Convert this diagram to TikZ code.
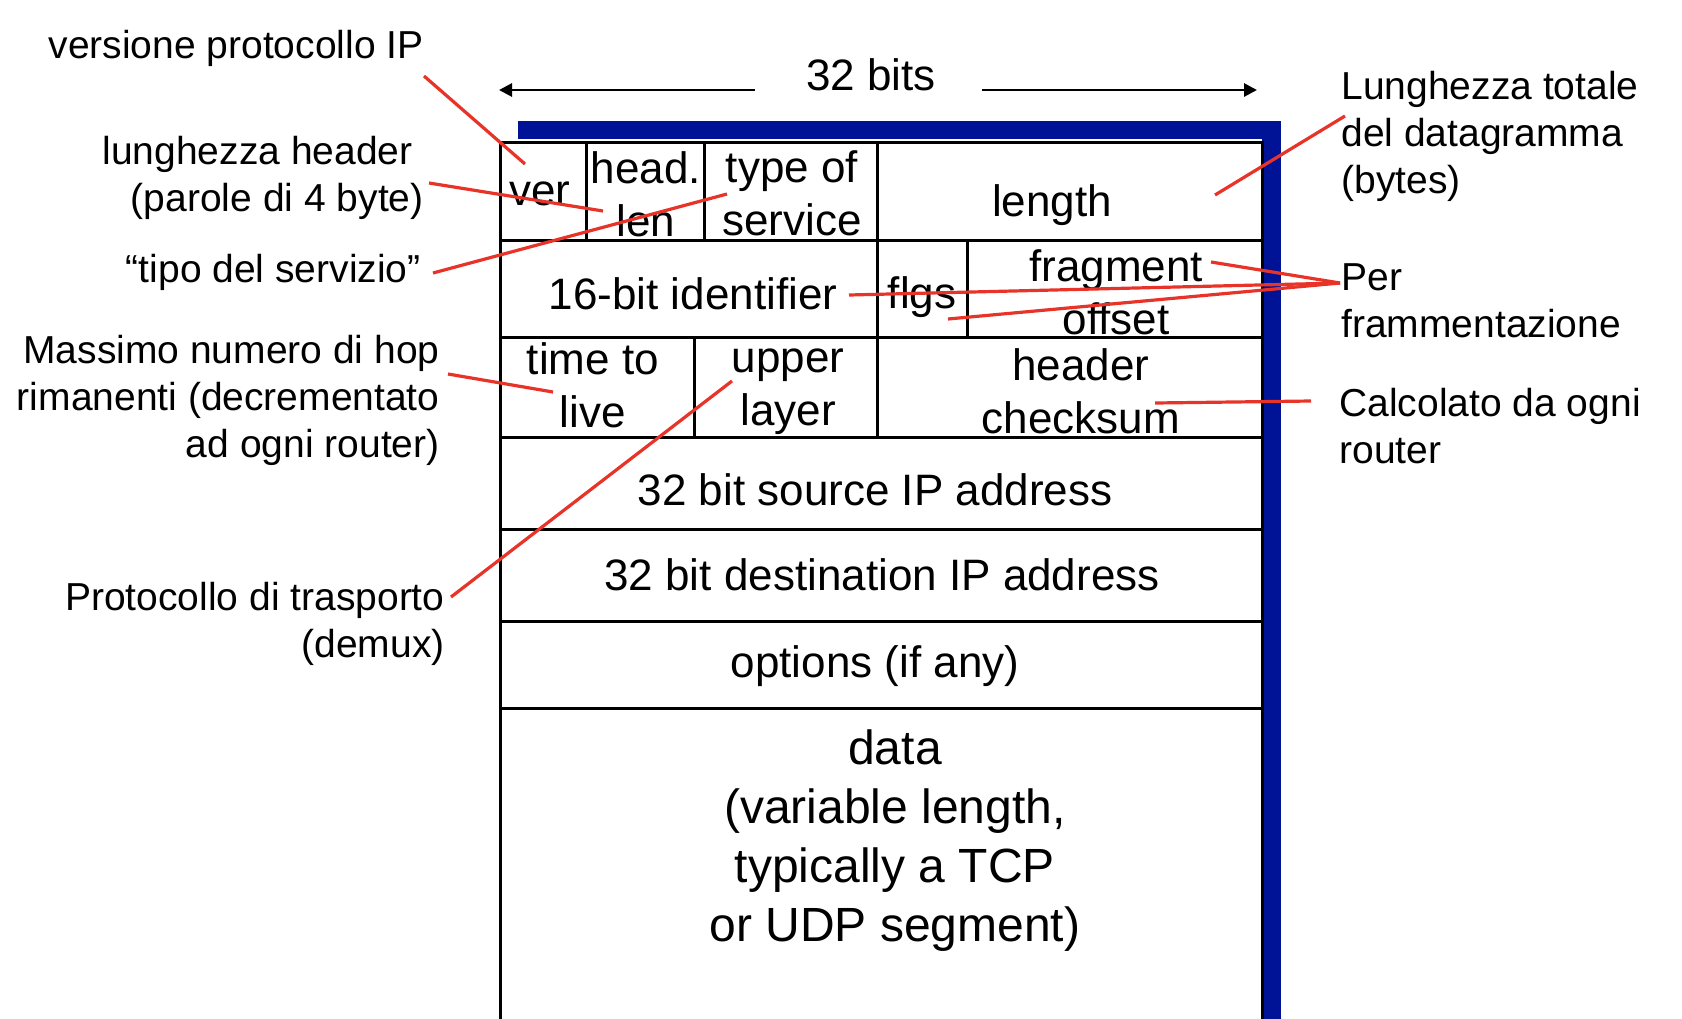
\documentclass[tikz,border=0pt]{standalone}
\usepackage{fontspec}
\setmainfont{Liberation Sans}
\usetikzlibrary{arrows.meta}
\definecolor{frameblue}{RGB}{0,18,150}
\definecolor{tagred}{RGB}{232,52,40}

\begin{document}
\begin{tikzpicture}[x=0.5pt,y=-0.5pt,
    field/.style={inner sep=0pt,anchor=base,align=center,font=\fontsize{22}{26.5}\selectfont},
    datafield/.style={field,font=\fontsize{24}{29.5}\selectfont},
    ltag/.style={inner sep=0pt,anchor=base east,align=right,font=\fontsize{19.5}{23.5}\selectfont},
    rtag/.style={inner sep=0pt,anchor=base west,align=left,font=\fontsize{19.5}{23.5}\selectfont},
    tagline/.style={draw=tagred,line width=1.6pt},
    grid/.style={line width=1.5pt},
    widtharrow/.style={line width=1.4pt,-{Triangle[length=6.5pt,width=6.5pt]}}]
  \useasboundingbox (0,0) rectangle (1682,1018);

  %% Blue frame behind the header
  \fill[frameblue] (518,121) rectangle (1281,139);
  \fill[frameblue] (1262,121) rectangle (1281,1040);

  %% Outline and rows of the header
  \draw[grid] (500,1040) -- (500,142) -- (1262,142) -- (1262,1040);
  \foreach \y in {240,337,437,529,621,708}{
    \draw[grid] (500,\y) -- (1262,\y);
  }
  %% Field separators
  \foreach \x/\ya/\yb in {586/142/240,704/142/240,877/142/337,967/240/337,694/337/437,877/337/437}{
    \draw[grid] (\x,\ya) -- (\x,\yb);
  }

  %% Width of a row
  \node[field] (bits) at (871,90) {32 bits};
  \coordinate (leftend) at (499,90);
  \coordinate (rightend) at (1257,90);
  \draw[widtharrow] ([xshift=-25.5pt]bits.base west) -- (leftend);
  \draw[widtharrow] ([xshift=23pt]bits.base east) -- (rightend);

  %% Fields (multi-line ones sit on their last line)
  \node[field] (ver) at (540,205) {ver};
  \node[field] (hlen) at (646,236) {head.\\len};
  \node[field] (tos) at (792,235) {type of\\service};
  \node[field] (len) at (1052,216) {length};
  \node[field] (ident) at (693,309) {16-bit identifier};
  \node[field] (flgs) at (922,308) {flgs};
  \node[field] (frag) at (1116,334) {fragment\\offset};
  \node[field] (ttl) at (593,427) {time to\\live};
  \node[field] (upper) at (788,425) {upper\\layer};
  \node[field] (cksum) at (1081,433) {header\\checksum};
  \node[field] (src) at (875,505) {32 bit source IP address};
  \node[field] (dst) at (882,590) {32 bit destination IP address};
  \node[field] (opt) at (875,677) {options (if any)};
  \node[datafield] (data) at (895,941) {data\\(variable length,\\typically a TCP\\or UDP segment)};

  %% Notes on the left
  \node[ltag] (verlab) at (424,58) {versione protocollo IP};
  \node[ltag] (hlenlab) at (424,211) {lunghezza header\hspace*{5.5pt}\\(parole di 4 byte)};
  \node[ltag] (toslab) at (421,282) {“tipo del servizio”};
  \node[ltag] (ttllab) at (440,457) {Massimo numero di hop\\rimanenti (decrementato\\ad ogni router)};
  \node[ltag] (protolab) at (445,657) {Protocollo di trasporto\\(demux)};

  %% Notes on the right
  \node[rtag] (lenlab) at (1341,193) {Lunghezza totale\\del datagramma\\(bytes)};
  \node[rtag] (fraglab) at (1341,337) {Per\\frammentazione};
  \node[rtag] (cksumlab) at (1339,463) {Calcolato da ogni\\router};

  %% Ends of the red lines
  \coordinate (verfrom) at (424,76);   \coordinate (verpt) at (525,164);
  \coordinate (hlenfrom) at (429,183); \coordinate (hlenpt) at (603,211);
  \coordinate (tosfrom) at (433,273);  \coordinate (tospt) at (727,194);
  \coordinate (ttlfrom) at (448,374);  \coordinate (ttlpt) at (553,392);
  \coordinate (protofrom) at (451,597); \coordinate (protopt) at (732,381);
  \coordinate (lenfrom) at (1345,116); \coordinate (lenpt) at (1215,195);
  \coordinate (perfrom) at (1340,283);
  \coordinate (fragpt) at (1211,262);
  \coordinate (identpt) at (849,295);
  \coordinate (flgspt) at (948,319);
  \coordinate (cksumfrom) at (1311,401); \coordinate (cksumpt) at (1155,403);

  \foreach \a/\b in {verfrom/verpt,hlenfrom/hlenpt,tosfrom/tospt,ttlfrom/ttlpt,protofrom/protopt,lenfrom/lenpt,cksumfrom/cksumpt}{
    \draw[tagline] (\a) -- (\b);
  }
  \foreach \p in {fragpt,identpt,flgspt}{
    \draw[tagline] (perfrom) -- (\p);
  }
\end{tikzpicture}
\end{document}
